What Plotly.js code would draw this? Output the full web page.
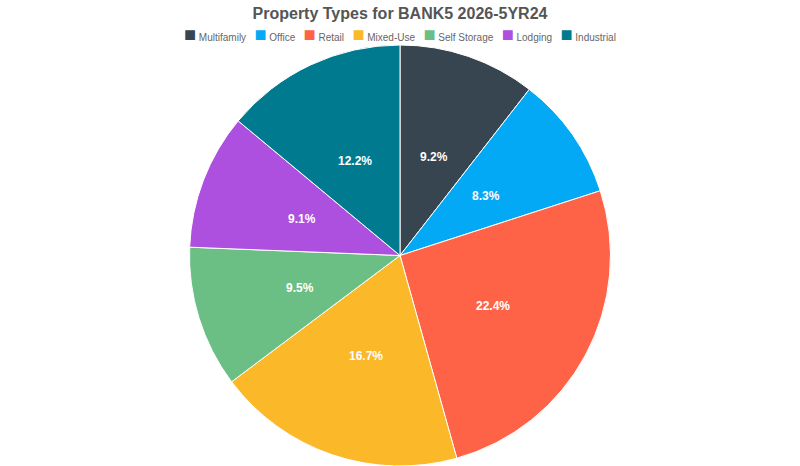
<!DOCTYPE html>
<html>
<head>
<meta charset="utf-8">
<script src="https://cdn.plot.ly/plotly-3.0.1.min.js"></script>
<style>
  html, body { margin: 0; padding: 0; background: #fff; }
  #chart { width: 800px; height: 466px; }
</style>
</head>
<body>
<div id="chart"></div>
<script>
// property types and their shares (%)
var categories = ['Multifamily', 'Office', 'Retail', 'Mixed-Use', 'Self Storage', 'Lodging', 'Industrial'];
var shares = [9.2, 8.3, 22.4, 16.7, 9.5, 9.1, 12.2];
var colors = ['#36454F', '#03A9F4', '#FF6347', '#FBB829', '#6BBF85', '#AD50DF', '#007A8F'];

var W = 800, H = 466, TOP = 45;
var plotH = H - TOP;
var R = Math.min(W, plotH) / 2;   // pie radius in px

var pie = {
  type: 'pie',
  labels: categories,
  values: shares,
  sort: false,
  direction: 'clockwise',
  rotation: 0,
  textinfo: 'none',
  hoverinfo: 'label+value',
  showlegend: false,
  marker: { colors: colors, line: { color: '#ffffff', width: 1 } }
};

// value labels sit halfway out along each slice's middle angle
// (annotations so they draw above the pie layer)
var total = shares.reduce(function(a, b) { return a + b; }, 0);
var annots = [];
var acc = 0;
shares.forEach(function(v) {
  var mid = (acc + v / 2) / total * 2 * Math.PI;
  acc += v;
  annots.push({
    xref: 'x', yref: 'y',
    x: 0.5 * Math.sin(mid),
    y: 0.5 * Math.cos(mid) - 0.005,
    text: '<b>' + v.toFixed(1) + '%</b>',
    showarrow: false,
    font: { family: 'Liberation Sans, Arial, sans-serif', size: 12, color: '#ffffff' }
  });
});

// legend as one line of coloured squares and names
var nb = '\u00A0';
var legendText = categories.map(function(c, i) {
  return '<span style="color:' + colors[i] + ';font-size:20px">\u25A0</span>' + nb + c;
}).join(nb + nb + nb);

annots.push({
  xref: 'paper', yref: 'paper',
  x: 0.5, xanchor: 'center',
  y: 1 + 11 / plotH, yanchor: 'middle',
  text: legendText,
  showarrow: false,
  font: { family: 'Liberation Sans, Arial, sans-serif', size: 10, color: '#666666' }
});

var layout = {
  width: W,
  height: H,
  title: {
    text: '<b>Property Types for BANK5 2026-5YR24</b>',
    font: { family: 'Liberation Sans, Arial, sans-serif', size: 16, color: '#555555' },
    x: 0.5,
    xanchor: 'center',
    y: 1 - 13 / H,
    yanchor: 'middle'
  },
  xaxis: { range: [-W / 2 / R, W / 2 / R], visible: false, fixedrange: true },
  yaxis: { range: [-plotH / 2 / R, plotH / 2 / R], visible: false, fixedrange: true },
  annotations: annots,
  margin: { t: TOP, b: 0, l: 0, r: 0 },
  paper_bgcolor: '#ffffff',
  plot_bgcolor: 'rgba(0,0,0,0)'
};

Plotly.newPlot('chart', [pie], layout, { displayModeBar: false });
</script>
</body>
</html>
